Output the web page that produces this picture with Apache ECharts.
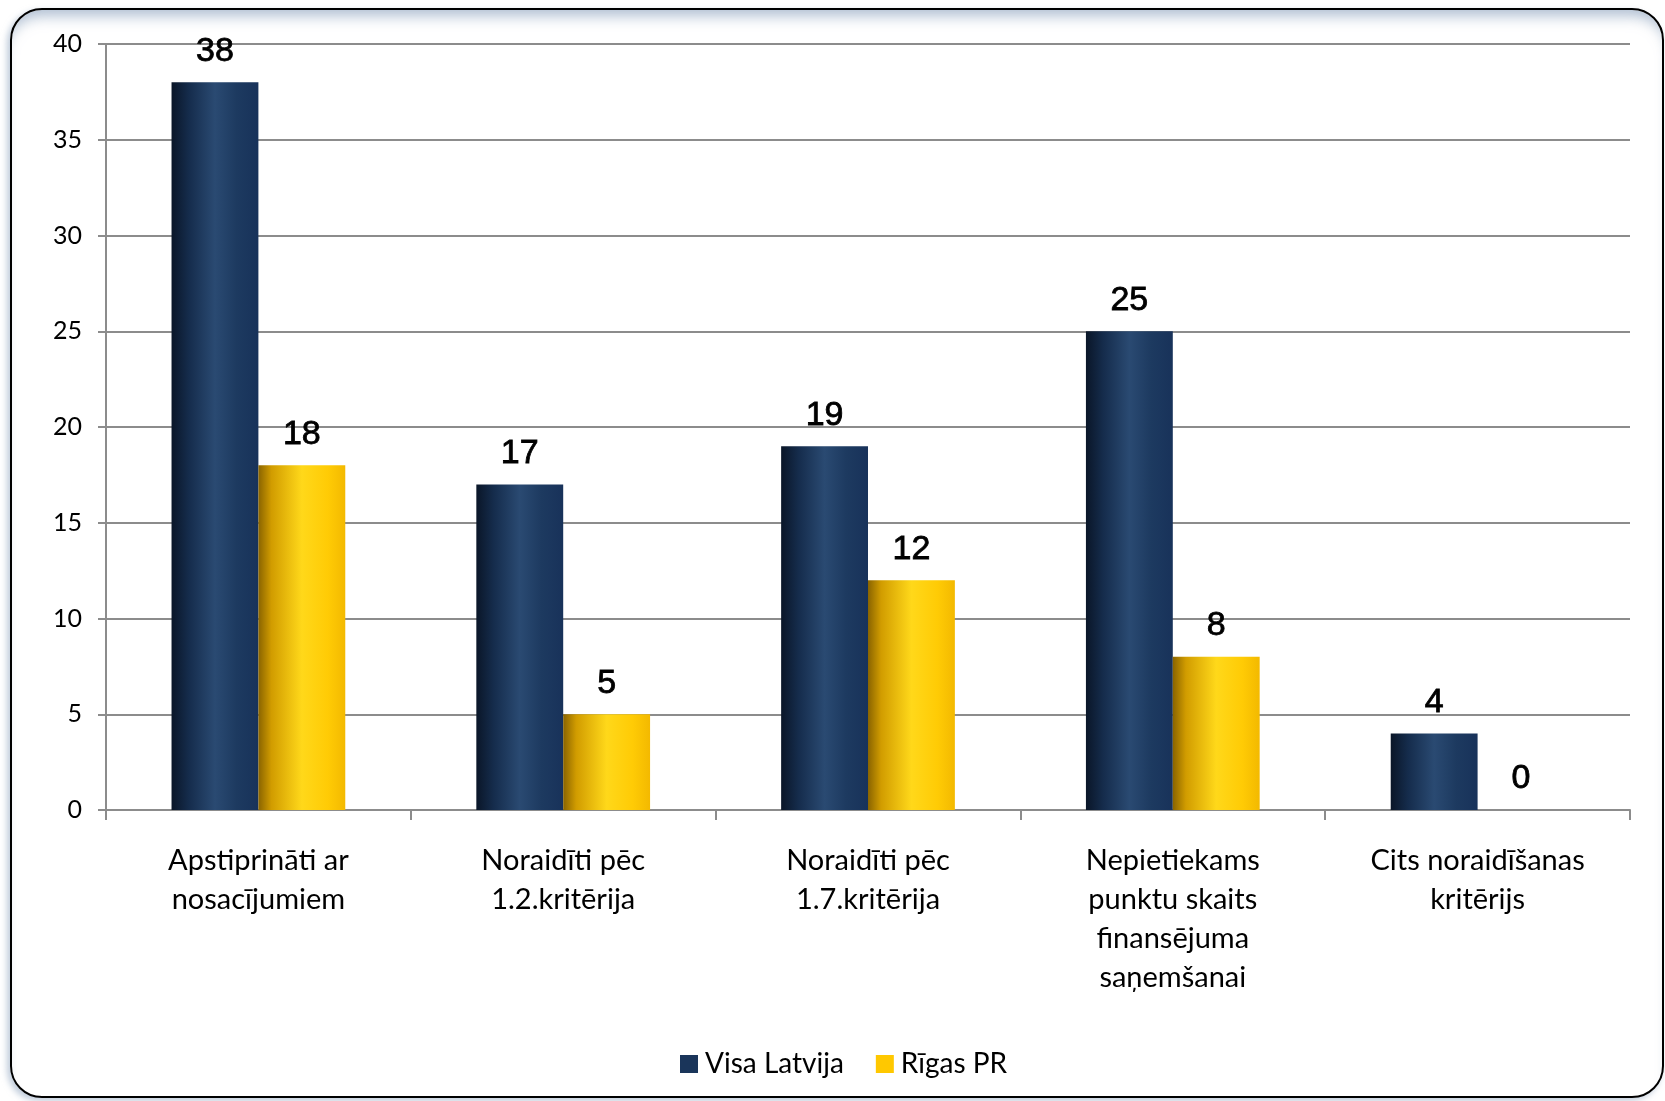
<!DOCTYPE html>
<html>
<head>
<meta charset="utf-8">
<script src="https://cdn.jsdelivr.net/npm/echarts@6/dist/echarts.min.js"></script>
<style>
  html, body { margin: 0; padding: 0; background: #ffffff; }
  #wrap { position: relative; width: 1665px; height: 1101px; overflow: hidden; background: #fff; }
  #frame {
    position: absolute; left: 10px; top: 8px; width: 1654px; height: 1090px;
    box-sizing: border-box; border: 2.5px solid #000; border-radius: 32px;
    box-shadow: inset 0 14px 14px -8px rgba(150,170,195,0.75), -3px 3px 6px rgba(150,170,195,0.6);
    background: transparent;
  }
  #chart { position: absolute; left: 0; top: 0; width: 1665px; height: 1101px; }
</style>
</head>
<body>
<div id="wrap">
  <div id="frame"></div>
  <div id="chart"></div>
</div>
<script>
const categories = [
  "Apstiprināti ar\nnosacījumiem",
  "Noraidīti pēc\n1.2.kritērija",
  "Noraidīti pēc\n1.7.kritērija",
  "Nepietiekams\npunktu skaits\nfinansējuma\nsaņemšanai",
  "Cits noraidīšanas\nkritērijs"
];
const seriesNames = ["Visa Latvija", "Rīgas PR"];
const visaLatvija = [38, 17, 19, 25, 4];
const rigasPR = [18, 5, 12, 8, 0];
const yTicks = { min: 0, max: 40, interval: 5 };

const navyGrad = new echarts.graphic.LinearGradient(0, 0, 1, 0, [
  { offset: 0, color: '#0a1628' },
  { offset: 0.2, color: '#152c4c' },
  { offset: 0.5, color: '#2a4a72' },
  { offset: 0.75, color: '#1d3a60' },
  { offset: 1, color: '#18325a' }
]);
const yellowGrad = new echarts.graphic.LinearGradient(0, 0, 1, 0, [
  { offset: 0, color: '#8a6400' },
  { offset: 0.15, color: '#d19c00' },
  { offset: 0.5, color: '#ffd81a' },
  { offset: 0.8, color: '#ffcb05' },
  { offset: 1, color: '#f3b900' }
]);

const chart = echarts.init(document.getElementById('chart'), null, { renderer: 'canvas' });
const labelStyle = {
  show: true, position: 'top', distance: 14,
  fontFamily: 'Liberation Sans, Arial, sans-serif', fontSize: 34, fontWeight: 'normal', color: '#000',
  textBorderColor: '#000', textBorderWidth: 0.8
};
chart.setOption({
  animation: false,
  backgroundColor: 'transparent',
  grid: { left: 106, right: 35, top: 44, bottom: 291, containLabel: false },
  legend: {
    data: [
      { name: seriesNames[0], itemStyle: { color: '#1a355a' } },
      { name: seriesNames[1], itemStyle: { color: '#ffc800' } }
    ],
    icon: 'rect', itemWidth: 18, itemHeight: 18, itemGap: 32,
    left: 675, top: 1045,
    textStyle: { fontFamily: 'Lato, sans-serif', fontSize: 28, color: '#000', padding: [0, 0, 0, 2] }
  },
  xAxis: {
    type: 'category',
    data: categories,
    axisLine: { lineStyle: { color: '#8c8c8c', width: 2 } },
    axisTick: { show: true, length: 10, lineStyle: { color: '#8c8c8c', width: 2 } },
    axisLabel: {
      interval: 0, margin: 31, color: '#000',
      fontFamily: 'Lato, sans-serif', fontSize: 29, lineHeight: 39
    }
  },
  yAxis: {
    type: 'value', min: yTicks.min, max: yTicks.max, interval: yTicks.interval,
    axisLine: { show: true, lineStyle: { color: '#8c8c8c', width: 2 } },
    axisTick: { show: true, length: 8, lineStyle: { color: '#8c8c8c', width: 2 } },
    splitLine: { lineStyle: { color: '#8c8c8c', width: 2 } },
    axisLabel: { margin: 24, color: '#000', fontFamily: 'Lato, sans-serif', fontSize: 25 }
  },
  series: [
    {
      name: seriesNames[0], type: 'bar', data: visaLatvija,
      barGap: '0%', barCategoryGap: '43%',
      itemStyle: { color: navyGrad },
      label: labelStyle
    },
    {
      name: seriesNames[1], type: 'bar', data: rigasPR,
      barGap: '0%', barCategoryGap: '43%',
      itemStyle: { color: yellowGrad },
      label: labelStyle
    }
  ]
});
</script>
</body>
</html>
